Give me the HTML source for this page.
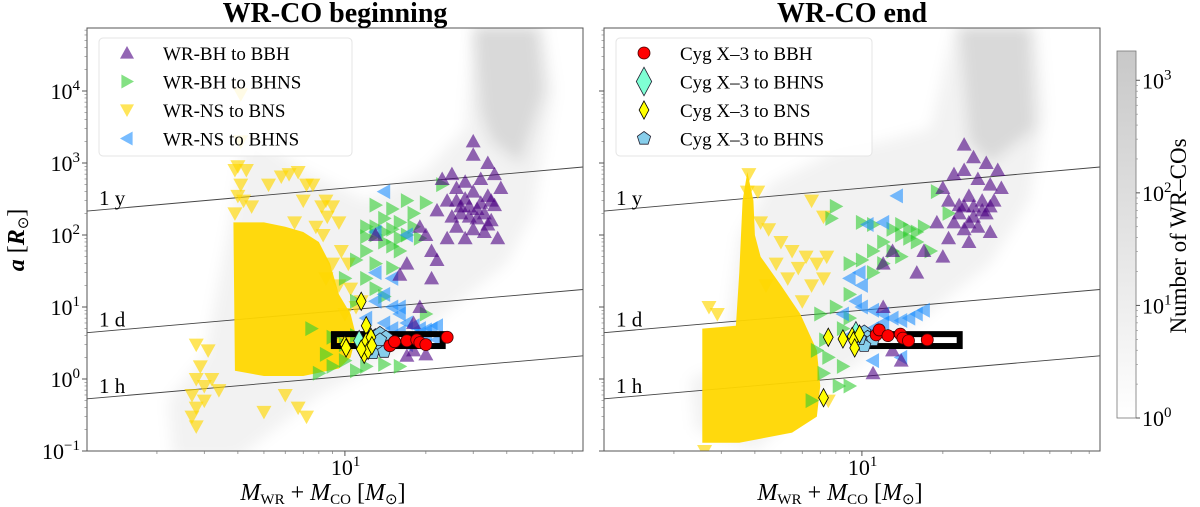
<!DOCTYPE html>
<html><head><meta charset="utf-8"><style>
html,body{margin:0;padding:0;background:#fff;}
svg{display:block;font-family:"Liberation Serif",serif;}
</style></head><body>
<svg id="chart" width="1200" height="507" viewBox="0 0 1200 507" xmlns="http://www.w3.org/2000/svg">
<defs><filter id="blur" x="-20%" y="-20%" width="140%" height="140%"><feGaussianBlur stdDeviation="7"/></filter>
<clipPath id="clipL"><rect x="87" y="28" width="496" height="423"/></clipPath>
<clipPath id="clipR"><rect x="604" y="28" width="496" height="423"/></clipPath>
<linearGradient id="cbg" x1="0" y1="1" x2="0" y2="0"><stop offset="0" stop-color="#ffffff"/><stop offset="1" stop-color="#c8c8c8"/></linearGradient></defs>
<g id="root"></g>
</svg>
<script>
// ---- data (mass [Msun], separation [Rsun]) ----
const leftBBH=[[30,2000],[30,1300],[34,1000],[36,700],[32,600],[28,550],[26,450],[30,400],[34,350],[38,450],[24,300],[27,250],[31,230],[33,200],[36,260],[29,180],[25,180],[35,160],[22,220],[26,130],[30,120],[33,110],[28,90],[24,90],[37,90],[20,100],[21,60],[22,45],[19,130],[16,28],[17,40],[21,25],[13,100],[19,10],[18,2.5],[17,2.1],[20,2.2],[18,6],[23,600],[25,700],[28,320],[32,280],[29,250],[27,200],[31,170],[34,140],[26,300],[35,300]];
const leftBHNS=[[23,500],[17,300],[20,280],[13,260],[15,230],[18,200],[14,170],[16,150],[12,130],[15,120],[13,100],[17,100],[19,90],[14,80],[12,60],[16,60],[11,45],[13,40],[15,35],[12,25],[10,25],[13,18],[11,12],[14,14],[20,8],[9,3.8],[10,3],[11,4],[12,2.5],[10,1.8],[9,1.5],[11,1.3],[8,1.2],[14,1.6],[12,1.5],[8.5,2.2],[7.5,5],[16,1.5],[14,110],[16,90],[15,70],[13,130],[18,130],[12,95]];
const leftNSBHNS=[[14,400],[13,110],[17,100],[13,30],[15,25],[14,15],[15,10],[16,8],[17,6],[18,5.5],[19,5],[20,4.8],[21,5],[22,5.5],[14,6],[15,5],[16,4.5],[12,7],[13,4],[18,4],[20,3.8],[22,3.5],[16,10],[13,12],[17,3],[12,3]];
const leftBNS=[[4.1,9000],[4.1,2000],[4,900],[3.9,800],[4.3,800],[4.1,500],[4,350],[4.2,300],[4.5,250],[3.9,200],[5.2,500],[5.8,650],[6.2,700],[6.7,750],[7.2,500],[7.6,500],[8.2,250],[8.5,300],[9,250],[8.6,180],[9.5,150],[7,300],[6.5,150],[7.8,130],[8.3,100],[9.7,60],[10.3,40],[9,40],[8.5,25],[9.5,20],[10.5,18],[11,10],[10,8],[11.5,12],[2.8,3],[3.1,2.5],[2.9,1.5],[2.8,1],[3,0.8],[2.7,0.6],[2.8,0.4],[2.7,0.3],[2.8,0.22],[3.2,1],[3.4,0.7],[3,0.5],[6,0.6],[6.7,0.4],[7.2,0.3],[5,0.35]];
const leftBNSBlob=[[3.85,150],[5,150],[6,130],[7,110],[8,80],[8.8,40],[9.5,15],[10.5,8],[11,4],[10.5,2],[9.5,1.4],[7,1.1],[5,1.1],[3.9,1.3]];
const leftCygBNS=[[11.5,12],[12,5.5],[10,3],[10.1,2.7],[12,3.3],[12.5,3.8],[11.8,2.2],[12.2,2.5],[12.6,2.9],[11.5,2.6]];
const leftCygBHNSd=[[11.3,3.4]];
const leftCygBHNSp=[[13,4],[13.5,4.3],[12.8,3.3],[13.8,3],[14.2,3.8],[13.3,2.6],[12.7,2.3],[14,2.4],[13.5,3.5]];
const leftCygBBH=[[14.7,2.9],[15.3,3.3],[17,3.4],[18.5,3.5],[19,3.2],[20,3.0],[24,3.8]];
const leftBox=[[9.1,2.87],[23.1,4.2]];

const rightBBH=[[24,1800],[26,1200],[29,1000],[32,800],[24,800],[22,700],[27,600],[30,500],[33,450],[20,450],[21,300],[25,350],[28,300],[31,300],[24,250],[23,200],[26,180],[29,200],[19,150],[22,150],[24,120],[27,130],[30,110],[21,90],[25,80],[17,60],[20,50],[16,30],[12,40],[12,10],[13,2.5],[14,1.8],[11,1.2],[13,60],[26,250],[28,220],[23,260],[30,250],[25,150]];
const rightBHNS=[[8,250],[10,150],[7.7,170],[11,140],[13,120],[14,100],[15,90],[12,80],[16,110],[13,60],[11,60],[14,50],[10,45],[12,40],[9,40],[11,30],[9,15],[8,10],[7,8],[9,7],[8.5,5],[7.3,3.5],[6.8,2.5],[7.5,2],[8.5,1.5],[7.2,1.2],[8.2,0.8],[9,0.8],[6.5,0.5],[21,200],[19,400],[17,130],[18,60],[15,120],[16,80],[14,140]];
const rightNSBHNS=[[13.5,350],[10.5,140],[12,150],[9.8,30],[9,25],[10,20],[9.5,12],[11,9],[12,8],[13,7],[14,6.5],[15,7],[16,8],[17,9],[11,5],[12,6],[10.5,4],[9,4],[11,1.8],[14,2],[10,10],[8.5,8]];
const rightBNS=[[4.2,150],[4.5,120],[5,80],[5.5,60],[4.8,40],[5.8,35],[6.2,50],[6.8,40],[6.5,20],[7.4,50],[7.2,25],[5.3,25],[4.4,20],[6,12],[2.7,10],[2.9,8],[6.5,300],[7.2,180],[4.1,400],[2.6,0.1],[7.5,0.5],[3.8,700],[3.75,400]];
const rightBNSBlob=[[2.55,5],[3.4,5.5],[3.5,30],[3.6,300],[3.75,750],[3.95,300],[4.0,100],[4.2,50],[5,20],[5.9,8],[6.8,2.5],[7,0.8],[6.8,0.3],[5.5,0.18],[3.5,0.13],[2.55,0.13]];
const rightCygBNS=[[7.5,3.8],[8.5,3.6],[9.2,3.9],[9.3,3.4],[9.8,4.2],[9.4,2.7],[7.2,0.55]];
const rightCygBHNSd=[[9.5,4.5]];
const rightCygBHNSp=[[9.7,4],[10.2,4.5],[10.5,3.8],[10.3,3.2],[11,3.5],[10.2,2.9],[9.8,3.6]];
const rightCygBBH=[[11.3,4.1],[11.6,4.8],[12.5,4],[13.9,4.2],[14.2,3.7],[14.9,3.4],[17.5,3.5]];
const rightBox=[[10,2.87],[23.1,4.2]];

const leftDensity=[[2.3,0.08],[2.2,0.5],[3,2],[3.8,200],[4.3,3000],[7,800],[12,300],[20,800],[28,3000],[30,80000],[55,80000],[60,10000],[50,200],[40,40],[25,10],[15,2],[8,0.6],[4,0.08]];
const leftDensityCore=[[30,80000],[52,80000],[55,10000],[45,1000],[35,2000],[32,5000]];
const rightDensity=[[2.4,0.2],[2.3,1],[3,1.5],[3.5,100],[4.5,500],[8,1500],[12,2000],[18,3000],[22,80000],[45,80000],[48,5000],[42,300],[30,40],[15,5],[8,1],[4,0.1]];
const rightDensityCore=[[23,80000],[42,80000],[44,3000],[30,1000],[25,2000]];

const periodNames=['1 y','1 d','1 h'];
const periodA=[[215,880],[4.4,17.5],[0.53,2.1]];
const yTickExp=[-1,0,1,2,3,4];
const cbTickExp=[0,1,2,3];

// ---- axes ----
const NS='http://www.w3.org/2000/svg';
const root=document.getElementById('root');
const LOGMMIN=Math.log10(1.099), LOGMMAX=Math.log10(76.8);
const YTOP=28, YBOT=451, AMIN=-1, AMAX=4.875, PW=496;
function xs(m,x0){return x0+(Math.log10(m)-LOGMMIN)/(LOGMMAX-LOGMMIN)*PW;}
function ys(a){return YBOT-(Math.log10(a)-AMIN)/(AMAX-AMIN)*(YBOT-YTOP);}
function mk(tag,attrs,parent){const e=document.createElementNS(NS,tag);for(const k in attrs)e.setAttribute(k,attrs[k]);(parent||root).appendChild(e);return e;}

function markerPath(type,cx,cy,s){
  if(type==='up')return `M${cx},${cy-s}L${cx+s},${cy+s*0.8}L${cx-s},${cy+s*0.8}Z`;
  if(type==='down')return `M${cx},${cy+s}L${cx+s},${cy-s*0.8}L${cx-s},${cy-s*0.8}Z`;
  if(type==='right')return `M${cx+s},${cy}L${cx-s*0.8},${cy-s}L${cx-s*0.8},${cy+s}Z`;
  if(type==='left')return `M${cx-s},${cy}L${cx+s*0.8},${cy-s}L${cx+s*0.8},${cy+s}Z`;
  if(type==='diamond')return `M${cx},${cy-s*1.3}L${cx+s*0.7},${cy}L${cx},${cy+s*1.3}L${cx-s*0.7},${cy}Z`;
  if(type==='pent'){let p='';for(let i=0;i<5;i++){const t=-Math.PI/2+i*2*Math.PI/5;p+=(i?'L':'M')+(cx+s*Math.cos(t))+','+(cy+s*Math.sin(t));}return p+'Z';}
}
function scatter(g,arr,x0,type,fill,op,s,stroke,name){
  arr.forEach(d=>{
    const cx=xs(d[0],x0), cy=ys(d[1]);
    let e;
    if(type==='circle'){e=mk('circle',{cx:cx,cy:cy,r:s,fill:fill,stroke:stroke||'none','stroke-width':0.8},g);}
    else e=mk('path',{d:markerPath(type,cx,cy,s),fill:fill,'fill-opacity':op,stroke:stroke||'none','stroke-width':0.8},g);
    
    
  });
}
function poly(g,arr,x0,attrs,name){
  const pts=arr.map(d=>xs(d[0],x0)+','+ys(d[1])).join(' ');
  const e=mk('polygon',Object.assign({points:pts},attrs),g);
  
  
}

function panel(x0,clip,side,d){
  const g=mk('g',{'clip-path':`url(#${clip})`});
  
  
  poly(g,d.dens,x0,{fill:'#000','fill-opacity':0.05,filter:'url(#blur)'},'density-heatmap');
  poly(g,d.core,x0,{fill:'#000','fill-opacity':0.1,filter:'url(#blur)'},'density-heatmap-core');
  periodA.forEach((pa,i)=>{
    const l=mk('line',{x1:x0,y1:ys(pa[0]),x2:x0+PW,y2:ys(pa[1]),stroke:'#444','stroke-width':0.9},g);
    
    
  });
  poly(g,d.blob,x0,{fill:'#ffd700','fill-opacity':0.95},'wr-ns-bns-dense-region');
  scatter(g,d.bns,x0,'down','#ffd700',0.65,7.5,null,'wr-ns-to-bns-point');
  scatter(g,d.bhns,x0,'right','#32cd32',0.6,7.5,null,'wr-bh-to-bhns-point');
  scatter(g,d.nsbhns,x0,'left','#1e90ff',0.6,7.5,null,'wr-ns-to-bhns-point');
  scatter(g,d.bbh,x0,'up','#4b0082',0.6,7.5,null,'wr-bh-to-bbh-point');
  const b=d.box; const bx1=xs(b[0][0],x0),bx2=xs(b[1][0],x0),by1=ys(b[1][1]),by2=ys(b[0][1]);
  const r=mk('rect',{x:bx1,y:by1,width:bx2-bx1,height:by2-by1,fill:'none',stroke:'#000','stroke-width':6},g);
  
  
  scatter(g,d.cygp,x0,'pent','#87ceeb',1,7,'#223','cyg-x3-to-bhns-pentagon');
  scatter(g,d.cygd,x0,'diamond','#7fffd4',1,8,'#223','cyg-x3-to-bhns-diamond');
  scatter(g,d.cygn,x0,'diamond','#ffff00',1,7,'#000','cyg-x3-to-bns-diamond');
  scatter(g,d.cygb,x0,'circle','#ff0000',1,6,'#400','cyg-x3-to-bbh-circle');
  periodNames.forEach((n,i)=>{
    const t=mk('text',{x:x0+12,y:ys(periodA[i][0])-6,'font-size':21},g);t.textContent=n;
    
    
  });
  const f=mk('rect',{x:x0,y:YTOP,width:PW,height:YBOT-YTOP,fill:'none',stroke:'#555','stroke-width':1});
  
  
  for(let e=-1;e<=4;e++){
    const y=ys(Math.pow(10,e));
    mk('line',{x1:x0-5,y1:y,x2:x0,y2:y,stroke:'#555'});
    for(let k=2;k<10;k++){const v=k*Math.pow(10,e);const yy=ys(v);if(yy>=YTOP)mk('line',{x1:x0-2.5,y1:yy,x2:x0,y2:yy,stroke:'#777','stroke-width':0.6});}
  }
  [2,3,4,5,6,7,8,9,20,30,40,50,60,70].forEach(m=>{const x=xs(m,x0);mk('line',{x1:x,y1:YBOT,x2:x,y2:YBOT+3,stroke:'#777','stroke-width':0.7});});
  const x10=xs(10,x0); mk('line',{x1:x10,y1:YBOT,x2:x10,y2:YBOT+5,stroke:'#555'});
  const xt=mk('text',{x:x10-14,y:475,'font-size':22});xt.innerHTML='10<tspan dy="-9" font-size="15">1</tspan>';
  
  
  const xl=mk('text',{x:x0+PW/2-12,y:500,'font-size':24,'text-anchor':'middle'});
  xl.innerHTML='<tspan font-style="italic">M</tspan><tspan font-size="15" dy="4">WR</tspan><tspan dy="-4"> + </tspan><tspan font-style="italic">M</tspan><tspan font-size="15" dy="4">CO</tspan><tspan dy="-4"> [</tspan><tspan font-style="italic">M</tspan><tspan font-size="15" dy="4">⊙</tspan><tspan dy="-4">]</tspan>';
  
  
}

panel(87,'clipL','left',{dens:leftDensity,core:leftDensityCore,blob:leftBNSBlob,bns:leftBNS,bhns:leftBHNS,nsbhns:leftNSBHNS,bbh:leftBBH,box:leftBox,cygp:leftCygBHNSp,cygd:leftCygBHNSd,cygn:leftCygBNS,cygb:leftCygBBH});
panel(604,'clipR','right',{dens:rightDensity,core:rightDensityCore,blob:rightBNSBlob,bns:rightBNS,bhns:rightBHNS,nsbhns:rightNSBHNS,bbh:rightBBH,box:rightBox,cygp:rightCygBHNSp,cygd:rightCygBHNSd,cygn:rightCygBNS,cygb:rightCygBBH});

yTickExp.forEach(e=>{
  const t=mk('text',{x:80,y:ys(Math.pow(10,e))+8,'font-size':22,'text-anchor':'end'});
  t.innerHTML='10<tspan dy="-9" font-size="15">'+(e<0?'−1':e)+'</tspan>';
  
  
});
const yl=mk('text',{x:0,y:0,'font-size':24,'text-anchor':'middle',transform:'translate(24,240) rotate(-90)'});
yl.innerHTML='<tspan font-style="italic" font-weight="bold">a</tspan> [<tspan font-style="italic" font-weight="bold">R</tspan><tspan font-size="15" dy="4">⊙</tspan><tspan dy="-4">]</tspan>';



[['WR-CO beginning',335,'left-title'],['WR-CO end',852,'right-title']].forEach(t=>{
  const e=mk('text',{x:t[1],y:22,'font-size':28,'font-weight':'bold','text-anchor':'middle'});e.textContent=t[0];
  
  
});

function legend(x,entries,name){
  const g=mk('g',{});
  
  
  mk('rect',{x:x,y:38,width:name==='left-legend'?253:256,height:118,rx:4,fill:'#fff','fill-opacity':0.85,stroke:'#e4e4e4'},g);
  entries.forEach((en,i)=>{
    const cy=53+i*28.5, cx=x+28;
    let m;
    if(en[1]==='circle')m=mk('circle',{cx:cx,cy:cy,r:6,fill:en[2],stroke:'#400','stroke-width':0.8},g);
    else m=mk('path',{d:markerPath(en[1],cx,cy,en[1]==='diamond'&&i===1?11:7),fill:en[2],'fill-opacity':en[3],stroke:en[4]||'none','stroke-width':0.8},g);
    
    
    const t=mk('text',{x:x+64,y:cy+7,'font-size':19},g);t.textContent=en[0];
    
    
  });
}
legend(99,[['WR-BH to BBH','up','#4b0082',0.6],['WR-BH to BHNS','right','#32cd32',0.6],['WR-NS to BNS','down','#ffd700',0.65],['WR-NS to BHNS','left','#1e90ff',0.6]],'left-legend');
legend(616,[['Cyg X–3 to BBH','circle','#ff0000',1],['Cyg X–3 to BHNS','diamond','#7fffd4',1,'#223'],['Cyg X–3 to BNS','diamond','#ffff00',1,'#000'],['Cyg X–3 to BHNS','pent','#87ceeb',1,'#223']],'right-legend');

const CBT=51, CBB=418, CBMAX=3.26;
const cb=mk('rect',{x:1117,y:CBT,width:19,height:CBB-CBT,fill:'url(#cbg)',stroke:'#777','stroke-width':0.8});


function cby(e){return CBB-e/CBMAX*(CBB-CBT);}
cbTickExp.forEach(e=>{
  const y=cby(e);
  mk('line',{x1:1136,y1:y,x2:1140,y2:y,stroke:'#555'});
  const t=mk('text',{x:1142,y:y+8,'font-size':22});t.innerHTML='10<tspan dy="-9" font-size="15">'+e+'</tspan>';
  
  
  if(e<3)for(let k=2;k<10;k++){const yy=cby(e+Math.log10(k));mk('line',{x1:1136,y1:yy,x2:1138,y2:yy,stroke:'#888','stroke-width':0.6});}
});
const cbl=mk('text',{x:0,y:0,'font-size':23,'text-anchor':'middle',transform:'translate(1186,236) rotate(-90)'});
cbl.textContent='Number of WR–COs';


</script>
</body></html>
